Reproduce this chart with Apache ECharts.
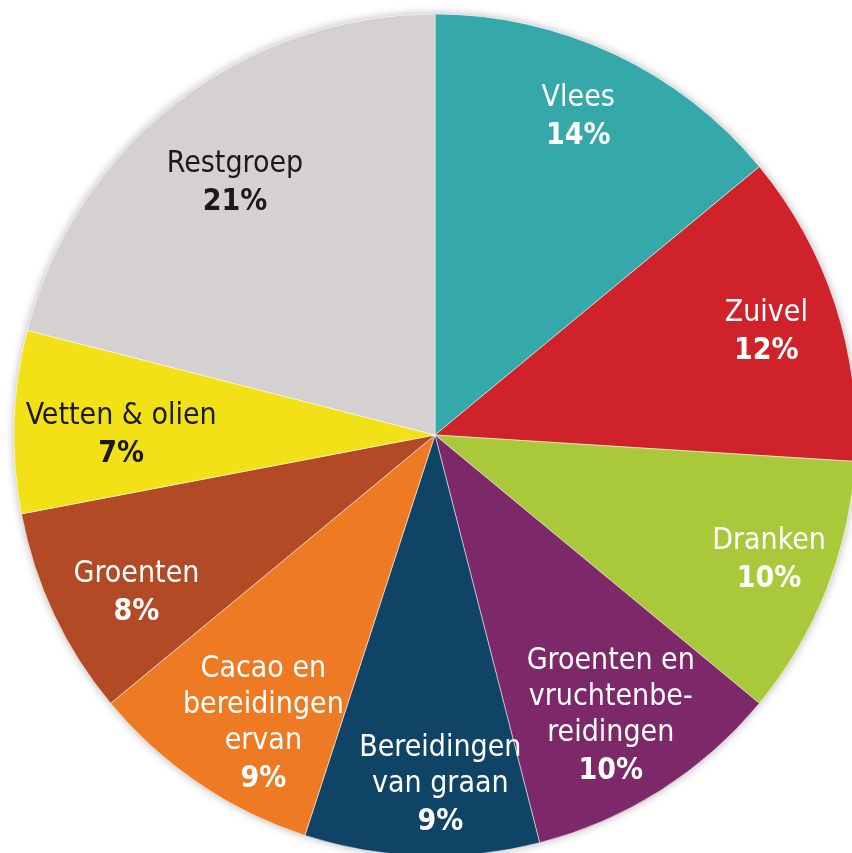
<!DOCTYPE html>
<html>
<head>
<meta charset="utf-8">
<title>Pie</title>
<script src="https://cdn.jsdelivr.net/npm/echarts@6/dist/echarts.min.js"></script>
<style>
  html, body { margin: 0; padding: 0; background: #fff; }
  #chart { width: 852px; height: 853px; }
</style>
</head>
<body>
<div id="chart"></div>
<script>
// categories, clockwise from the top
const categories = ['Vlees', 'Zuivel', 'Dranken', 'Groenten en vruchtenbereidingen', 'Bereidingen van graan', 'Cacao en bereidingen ervan', 'Groenten', 'Vetten & olien', 'Restgroep']
const labelTexts = ['Vlees', 'Zuivel', 'Dranken', 'Groenten en\nvruchtenbe-\nreidingen', 'Bereidingen\nvan graan', 'Cacao en\nbereidingen\nervan', 'Groenten', 'Vetten & olien', 'Restgroep']
const shares = [14, 12, 10, 10, 9, 9, 8, 7, 21]
const colors = ['#35a9a9', '#d0222a', '#aac93a', '#7c2869', '#0f4466', '#ee7b24', '#b24a25', '#f3e117', '#d4d1d0']
const textColors = ['#fff', '#fff', '#fff', '#fff', '#fff', '#fff', '#fff', '#1a1a1a', '#1a1a1a']

// small nudges of the labels so they sit where the original has them
const labelShift = [[-2, -8], [7, 4], [17, 1], [-7, -6], [16, 10], [20, 8], [10, 14], [27, 12], [9, 19]]

const chart = echarts.init(document.getElementById('chart'))

const fontFam = "'DejaVu Sans Condensed', 'Roboto', sans-serif"

const pieData = categories.map((c, i) => ({
  name: c,
  value: shares[i],
  itemStyle: { color: colors[i] }
}))

// transparent ring only used to place the labels further out
const labelData = categories.map((c, i) => ({
  name: c,
  value: shares[i],
  itemStyle: { color: 'rgba(0,0,0,0)' },
  label: {
    formatter: () => labelTexts[i].split('\n').map(t => '{n|' + t + '}').join('\n') + '\n{p|' + shares[i] + '%}',
    rich: {
      n: { color: textColors[i], fontSize: 30, fontFamily: fontFam, lineHeight: 36 },
      p: { color: textColors[i], fontSize: 30, fontWeight: 'bold', fontFamily: fontFam, lineHeight: 40 }
    }
  }
}))

const option = {
  animation: false,
  graphic: [{
    type: 'circle',
    shape: { cx: 435, cy: 435, r: 421 },
    style: { fill: '#fff', shadowBlur: 10, shadowColor: 'rgba(0,0,0,0.3)' },
    z: -10,
    silent: true
  }],
  series: [
    {
      type: 'pie',
      center: [435, 435],
      radius: [0, 421],
      startAngle: 90,
      clockwise: true,
      silent: true,
      label: { show: false },
      labelLine: { show: false },
      itemStyle: {
        borderColor: 'rgba(255,255,255,0.5)',
        borderWidth: 1
      },
      data: pieData
    },
    {
      type: 'pie',
      center: [435, 435],
      radius: [255, 421],
      startAngle: 90,
      clockwise: true,
      silent: true,
      label: { show: true, position: 'inside' },
      labelLine: { show: false },
      labelLayout: params => ({
        dx: labelShift[params.dataIndex][0],
        dy: labelShift[params.dataIndex][1]
      }),
      data: labelData
    }
  ]
}
chart.setOption(option)
</script>
</body>
</html>
